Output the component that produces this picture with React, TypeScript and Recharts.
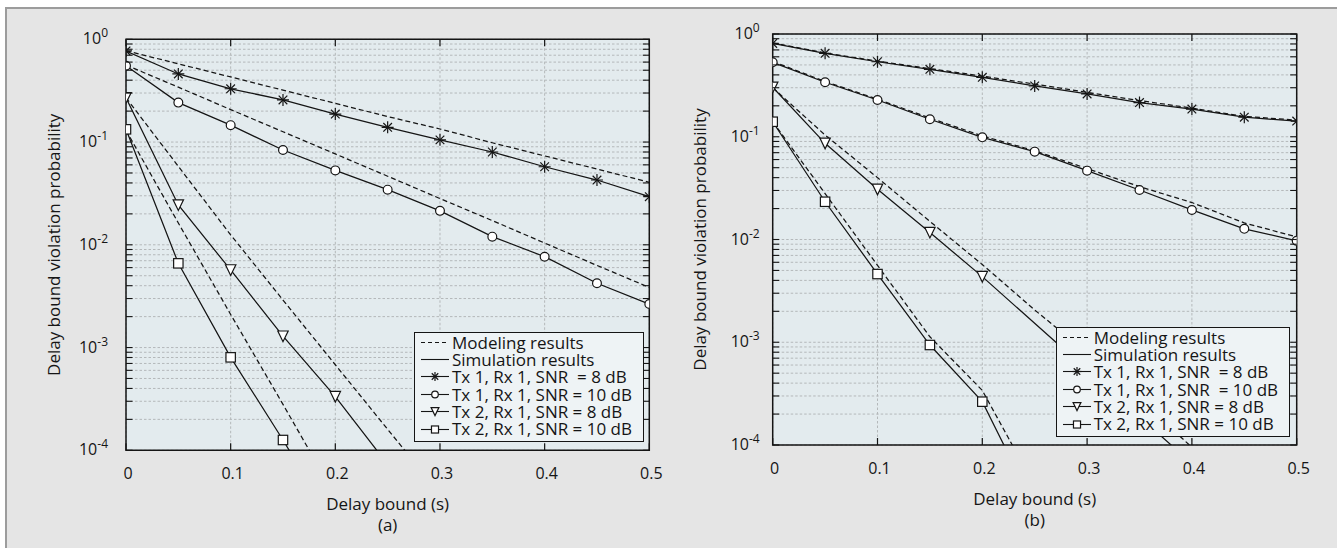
import React from 'react';
import { LineChart, Line, XAxis, YAxis, CartesianGrid, Legend, ReferenceArea } from 'recharts';

// ---------- data ----------
const delayBound = [0, 0.05, 0.1, 0.15, 0.2, 0.25, 0.3, 0.35, 0.4, 0.45, 0.5];

// (a)
const simA_tx1_snr8 = [0.77, 0.46, 0.33, 0.257, 0.187, 0.139, 0.105, 0.08, 0.0575, 0.0427, 0.0294];
const simA_tx1_snr10 = [0.553, 0.242, 0.146, 0.0837, 0.053, 0.0344, 0.0214, 0.012, 0.00766, 0.00422, 0.00265];
const simA_tx2_snr8 = [0.27, 0.0244, 0.00569, 0.00129, 0.000333, 0.000073];
const simA_tx2_snr10 = [0.133, 0.0066, 0.000803, 0.000126, 0.000018];
const modA_tx1_snr8 = [0.774, 0.577, 0.43, 0.32, 0.238, 0.177, 0.134, 0.0984, 0.0733, 0.0546, 0.0406];
const modA_tx1_snr10 = [0.562, 0.342, 0.207, 0.126, 0.0766, 0.0465, 0.0282, 0.0172, 0.0104, 0.0063, 0.00385];
const modA_tx2_snr8 = [0.27, 0.058, 0.0125, 0.0029, 0.00068, 0.00016, 0.000038];
const modA_tx2_snr10 = [0.13, 0.0163, 0.0021, 0.00028, 0.000036];

// (b)
const simB_tx1_snr8 = [0.81, 0.649, 0.537, 0.453, 0.379, 0.312, 0.261, 0.215, 0.186, 0.155, 0.142];
const simB_tx1_snr10 = [0.53, 0.339, 0.228, 0.148, 0.0987, 0.0716, 0.0468, 0.0303, 0.0194, 0.0127, 0.0097];
const simB_tx2_snr8_t = [0, 0.05, 0.1, 0.15, 0.2, 0.4];
const simB_tx2_snr8 = [0.303, 0.0863, 0.0308, 0.0117, 0.00435, 0.000066];
const simB_tx2_snr10 = [0.14, 0.0233, 0.00461, 0.00094, 0.000264, 0.000025];
const modB_tx1_snr8 = [0.82, 0.655, 0.545, 0.46, 0.39, 0.325, 0.27, 0.225, 0.19, 0.158, 0.145];
const modB_tx1_snr10 = [0.54, 0.345, 0.232, 0.152, 0.102, 0.073, 0.049, 0.0327, 0.0229, 0.0145, 0.0106];
const modB_tx2_snr8 = [0.3, 0.104, 0.04, 0.015, 0.0057, 0.00206, 0.00079, 0.00028, 0.000095];
const modB_tx2_snr10 = [0.14, 0.028, 0.0056, 0.00113, 0.00034, 0.00004];

const xTicks = [0, 0.1, 0.2, 0.3, 0.4, 0.5];
const xTickLabels = ['0', '0.1', '0.2', '0.3', '0.4', '0.5'];
const yMajorTicks = [1, 0.1, 0.01, 0.001, 0.0001];
const yTickExponents = ['0', '-1', '-2', '-3', '-4'];
const yMinorMultipliers = [2, 3, 4, 5, 6, 7, 8, 9];

const legendLabelsA = [
  'Modeling results',
  'Simulation results',
  'Tx 1, Rx 1, SNR  = 8 dB',
  'Tx 1, Rx 1, SNR = 10 dB',
  'Tx 2, Rx 1, SNR = 8 dB',
  'Tx 2, Rx 1, SNR = 10 dB',
];
const legendLabelsB = [
  'Modeling results',
  'Simulation results',
  'Tx 1, Rx 1, SNR  = 8 dB',
  'Tx 1, Rx 1, SNR  = 10 dB',
  'Tx 2, Rx 1, SNR = 8 dB',
  'Tx 2, Rx 1, SNR = 10 dB',
];
const xTitle = 'Delay bound (s)';
const yTitle = 'Delay bound violation probability';

// ---------- helpers ----------
const FONT = '"Open Sans", "Noto Sans", sans-serif';
const INK = '#151515';
const Y_MIN = 0.0001;
const TITLE_SIZE = 17;
const TICK_SIZE = 16;
const ROW_H = 17.4;

const allYTicks: number[] = [];
yMajorTicks.slice().reverse().forEach((d, i, arr) => {
  allYTicks.push(d);
  if (i < arr.length - 1) yMinorMultipliers.forEach((m) => allYTicks.push(+(m * d).toPrecision(3)));
});

const toPoints = (vals: number[], ts: number[] = delayBound) => vals.map((v, i) => ({ t: ts[i], v }));

type Marker = 'star' | 'circle' | 'tri' | 'square';

const drawMarker = (m: Marker, x: number, y: number, s: number, key?: string) => {
  const sw = 1.2;
  if (m === 'star') {
    const r = 6 * s;
    const d = r * 0.72;
    return (
      <g key={key} stroke={INK} strokeWidth={sw}>
        <line x1={x - r} y1={y} x2={x + r} y2={y} />
        <line x1={x} y1={y - r} x2={x} y2={y + r} />
        <line x1={x - d} y1={y - d} x2={x + d} y2={y + d} />
        <line x1={x - d} y1={y + d} x2={x + d} y2={y - d} />
      </g>
    );
  }
  if (m === 'circle') {
    return <circle key={key} cx={x} cy={y} r={4.4 * s} fill="#ffffff" stroke={INK} strokeWidth={sw} />;
  }
  if (m === 'tri') {
    const w = 5.2 * s;
    return (
      <polygon
        key={key}
        points={`${x - w},${y - w} ${x + w},${y - w} ${x},${y + w * 1.05}`}
        fill="#ffffff"
        stroke={INK}
        strokeWidth={sw}
      />
    );
  }
  const h = 4.7 * s;
  return <rect key={key} x={x - h} y={y - h} width={2 * h} height={2 * h} fill="#ffffff" stroke={INK} strokeWidth={sw} />;
};

const dotRenderer = (m: Marker) => (p: any) => {
  const key = `dot-${m}-${p.index}`;
  if (p.cx == null || p.cy == null || !p.payload || p.payload.v < Y_MIN) return <g key={key} />;
  return drawMarker(m, p.cx, p.cy, 1, key);
};

type Geom = { left: number; right: number; top: number; bottom: number; labelGap: number };

const makeXTick = (g: Geom) => (p: any) => {
  const idx = xTicks.indexOf(p.payload.value);
  const x = p.x;
  return (
    <g key={`xt-${p.payload.value}`}>
      <line x1={x} y1={g.bottom} x2={x} y2={g.bottom - 7} stroke={INK} strokeWidth={1.2} />
      <line x1={x} y1={g.top} x2={x} y2={g.top + 7} stroke={INK} strokeWidth={1.2} />
      <text x={x + 2} y={g.bottom + 23} dy="0.36em" textAnchor="middle" fontFamily={FONT} fontSize={TICK_SIZE} fill={INK}>
        {idx >= 0 ? xTickLabels[idx] : ''}
      </text>
    </g>
  );
};

const makeYTick = (g: Geom) => (p: any) => {
  const v = p.payload.value;
  const y = p.y;
  const mi = yMajorTicks.indexOf(v);
  return (
    <g key={`yt-${v}`}>
      <line x1={g.left} y1={y} x2={g.left + 6.5} y2={y} stroke={INK} strokeWidth={1.1} />
      <line x1={g.right - 6.5} y1={y} x2={g.right} y2={y} stroke={INK} strokeWidth={1.1} />
      {mi >= 0 ? (
        <text x={g.left - g.labelGap} y={y + 5} textAnchor="end" fontFamily={FONT} fontSize={TICK_SIZE} fill={INK}>
          <tspan>10</tspan>
          <tspan dy={-7} fontSize={12}>
            {yTickExponents[mi]}
          </tspan>
        </text>
      ) : null}
    </g>
  );
};

const LegendIcon = ({ kind }: { kind: number }) => {
  const markers: (Marker | null)[] = [null, null, 'star', 'circle', 'tri', 'square'];
  const m = markers[kind];
  return (
    <svg width={28} height={17} style={{ display: 'block', flex: '0 0 auto' }}>
      <line x1={0} y1={8.5} x2={28} y2={8.5} stroke={INK} strokeWidth={1.1} strokeDasharray={kind === 0 ? '4 3' : undefined} />
      {m ? drawMarker(m, 14, 8.5, 0.75) : null}
    </svg>
  );
};

const LegendBox = ({ labels }: { labels: string[] }) => (
  <div
    style={{
      border: `1.3px solid ${INK}`,
      background: '#eef3f5',
      padding: '1px 4px 3px 6px',
      fontFamily: FONT,
      fontSize: TITLE_SIZE,
      lineHeight: `${ROW_H}px`,
      color: INK,
      boxSizing: 'border-box',
    }}
  >
    {labels.map((l, i) => (
      <div key={l + i} style={{ display: 'flex', alignItems: 'center', whiteSpace: 'pre', height: ROW_H }}>
        <LegendIcon kind={i} />
        <span
          style={{
            marginLeft: 3,
            display: 'inline-block',
            height: ROW_H,
            lineHeight: `${ROW_H}px`,
            overflow: 'visible',
          }}
        >
          {l}
        </span>
      </div>
    ))}
  </div>
);

type Series = { data: { t: number; v: number }[]; dashed: boolean; marker?: Marker };

type PanelProps = {
  width: number;
  height: number;
  margin: { top: number; right: number; bottom: number; left: number };
  series: Series[];
  legendLabels: string[];
  legendPos: { left: number; top: number; width: number };
  caption: string;
  yTitleX: number;
  xTitleY: number;
  captionY: number;
  labelGap: number;
};

const Panel = (p: PanelProps) => {
  const g: Geom = {
    left: p.margin.left + 80,
    right: p.width - p.margin.right,
    top: p.margin.top,
    bottom: p.height - p.margin.bottom - 60,
    labelGap: p.labelGap,
  };
  const cx = (g.left + g.right) / 2;
  const cy = (g.top + g.bottom) / 2;
  return (
    <LineChart width={p.width} height={p.height} margin={p.margin}>
      <CartesianGrid fill="#e3ebee" fillOpacity={1} stroke="#b4b8ba" strokeDasharray="2.5 2" strokeWidth={1} />
      <XAxis
        type="number"
        dataKey="t"
        domain={[0, 0.5]}
        ticks={xTicks}
        interval={0}
        allowDataOverflow
        height={60}
        tickLine={false}
        axisLine={false}
        tick={makeXTick(g)}
        label={{
          content: () => (
            <g>
              <text x={cx} y={p.xTitleY} dy="0.36em" textAnchor="middle" fontFamily={FONT} fontSize={TITLE_SIZE} fill={INK}>
                {xTitle}
              </text>
              <text x={cx} y={p.captionY} dy="0.36em" textAnchor="middle" fontFamily={FONT} fontSize={TITLE_SIZE} fill={INK}>
                {p.caption}
              </text>
            </g>
          ),
        }}
      />
      <YAxis
        type="number"
        scale="log"
        domain={[Y_MIN, 1]}
        ticks={allYTicks}
        interval={0}
        allowDataOverflow
        width={80}
        tickLine={false}
        axisLine={false}
        tick={makeYTick(g)}
        label={{
          content: () => (
            <text
              x={p.yTitleX}
              y={cy}
              dy="0.36em"
              textAnchor="middle"
              fontFamily={FONT}
              fontSize={TITLE_SIZE}
              fill={INK}
              transform={`rotate(-90 ${p.yTitleX} ${cy})`}
            >
              {yTitle}
            </text>
          ),
        }}
      />
      {p.series.map((s, i) => (
        <Line
          key={i}
          data={s.data}
          dataKey="v"
          type="linear"
          stroke={INK}
          strokeWidth={1.25}
          strokeDasharray={s.dashed ? '5 3' : undefined}
          dot={s.dashed || !s.marker ? false : dotRenderer(s.marker)}
          activeDot={false}
          isAnimationActive={false}
        />
      ))}
      <ReferenceArea x1={0} x2={0.5} y1={Y_MIN} y2={1} fill="none" stroke={INK} strokeWidth={1.5} ifOverflow="visible" />
      <Legend
        layout="vertical"
        align="center"
        verticalAlign="middle"
        wrapperStyle={{ left: p.legendPos.left, top: p.legendPos.top, width: p.legendPos.width }}
        content={() => <LegendBox labels={p.legendLabels} />}
      />
    </LineChart>
  );
};

const seriesA: Series[] = [
  { data: toPoints(modA_tx1_snr8), dashed: true },
  { data: toPoints(modA_tx1_snr10), dashed: true },
  { data: toPoints(modA_tx2_snr8), dashed: true },
  { data: toPoints(modA_tx2_snr10), dashed: true },
  { data: toPoints(simA_tx1_snr8), dashed: false, marker: 'star' },
  { data: toPoints(simA_tx1_snr10), dashed: false, marker: 'circle' },
  { data: toPoints(simA_tx2_snr8), dashed: false, marker: 'tri' },
  { data: toPoints(simA_tx2_snr10), dashed: false, marker: 'square' },
];

const seriesB: Series[] = [
  { data: toPoints(modB_tx1_snr8), dashed: true },
  { data: toPoints(modB_tx1_snr10), dashed: true },
  { data: toPoints(modB_tx2_snr8), dashed: true },
  { data: toPoints(modB_tx2_snr10), dashed: true },
  { data: toPoints(simB_tx1_snr8), dashed: false, marker: 'star' },
  { data: toPoints(simB_tx1_snr10), dashed: false, marker: 'circle' },
  { data: toPoints(simB_tx2_snr8, simB_tx2_snr8_t), dashed: false, marker: 'tri' },
  { data: toPoints(simB_tx2_snr10), dashed: false, marker: 'square' },
];

export default function App() {
  return (
    <div style={{ position: 'absolute', left: 0, top: 0, width: 1337, height: 548, background: '#ffffff', overflow: 'hidden' }}>
      <div
        style={{
          position: 'absolute',
          left: 5,
          top: 6.5,
          right: -10,
          bottom: -10,
          background: '#e5e5e5',
          borderTop: '2px solid #9c9c9c',
          borderLeft: '2px solid #9c9c9c',
        }}
      />
      <div style={{ position: 'absolute', left: 0, top: 0 }}>
        <Panel
          width={668}
          height={548}
          margin={{ top: 39.3, right: 18.7, bottom: 37.7, left: 46 }}
          series={seriesA}
          legendLabels={legendLabelsA}
          legendPos={{ left: 414, top: 331.5, width: 229.5 }}
          caption="(a)"
          yTitleX={54}
          xTitleY={504}
          captionY={525}
          labelGap={18}
        />
      </div>
      <div style={{ position: 'absolute', left: 668, top: 0 }}>
        <Panel
          width={669}
          height={548}
          margin={{ top: 34, right: 40.3, bottom: 43, left: 24.7 }}
          series={seriesB}
          legendLabels={legendLabelsB}
          legendPos={{ left: 387.7, top: 326.5, width: 234.5 }}
          caption="(b)"
          yTitleX={32}
          xTitleY={499}
          captionY={520}
          labelGap={13}
        />
      </div>
    </div>
  );
}
